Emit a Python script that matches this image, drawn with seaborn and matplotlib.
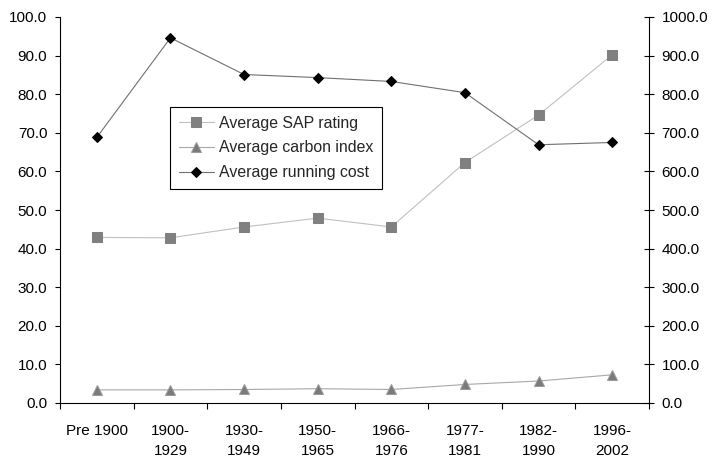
import matplotlib
matplotlib.use("Agg")
import matplotlib.pyplot as plt
from matplotlib.ticker import FormatStrFormatter, FixedLocator
import seaborn as sns
import pandas as pd

bands = ["Pre 1900", "1900-\n1929", "1930-\n1949", "1950-\n1965", "1966-\n1976",
         "1977-\n1981", "1982-\n1990", "1996-\n2002"]
sap_rating = [42.9, 42.8, 45.6, 47.9, 45.6, 62.3, 74.6, 90.2]
carbon_index = [3.4, 3.4, 3.5, 3.7, 3.5, 4.8, 5.7, 7.3]
running_cost = [688, 946, 851, 843, 833, 804, 669, 675]

df = pd.DataFrame({"band": bands, "sap": sap_rating, "carbon": carbon_index, "cost": running_cost})

sns.set_style("ticks")
plt.rcParams["font.family"] = ["Liberation Sans", "DejaVu Sans"]
plt.rcParams["font.size"] = 11

fig = plt.figure(figsize=(7.18, 4.59), dpi=100)
ax = fig.add_axes([60/718, 1-403/459, 589/718, 386/459])
ax2 = ax.twinx()

sns.lineplot(data=df, x="band", y="sap", ax=ax, sort=False, color="#c0c0c0", lw=0.8,
             marker="s", markersize=6.5, markerfacecolor="#808080", markeredgecolor="#808080",
             label="Average SAP rating", legend=False)
sns.lineplot(data=df, x="band", y="carbon", ax=ax, sort=False, color="#a8a8a8", lw=0.8,
             marker="^", markersize=7.5, markerfacecolor="#7a7a7a", markeredgecolor="#9a9a9a",
             label="Average carbon index", legend=False)
sns.lineplot(data=df, x="band", y="cost", ax=ax2, sort=False, color="#707070", lw=0.8,
             marker="D", markersize=5.5, markerfacecolor="black", markeredgecolor="black",
             label="Average running cost", legend=False)

ax.set_xlim(-0.5, 7.5)
ax.set_ylim(0, 100)
ax2.set_ylim(0, 1000)
ax.set_xlabel("")
ax.set_ylabel("")
ax2.set_ylabel("")

ax.set_yticks([i*10 for i in range(11)])
ax2.set_yticks([i*100 for i in range(11)])
ax.yaxis.set_major_formatter(FormatStrFormatter("%.1f"))
ax2.yaxis.set_major_formatter(FormatStrFormatter("%.1f"))

ax.set_xticks(range(len(bands)))
ax.set_xticklabels(bands, linespacing=1.55)
ax.xaxis.set_minor_locator(FixedLocator([i - 0.5 for i in range(len(bands) + 1)]))
ax.tick_params(axis="x", which="major", length=0, pad=15, labelsize=11, colors="black")
ax.tick_params(axis="x", which="minor", length=4, width=0.8, direction="out", color="black")
ax.tick_params(axis="y", length=3.6, width=0.8, direction="out", pad=5.5, labelsize=11, colors="black")
ax2.tick_params(axis="y", length=7, width=0.8, direction="inout", pad=5.5, labelsize=11, colors="black")

for s in ["top", "right"]:
    ax.spines[s].set_visible(False)
for s in ["top", "left", "bottom"]:
    ax2.spines[s].set_visible(False)
for sp in [ax.spines["left"], ax.spines["bottom"], ax2.spines["right"]]:
    sp.set_color("black")
    sp.set_linewidth(0.8)

handles = ax.get_lines()[:2] + ax2.get_lines()[:1]
labels = ["Average SAP rating", "Average carbon index", "Average running cost"]
leg = ax2.legend(handles, labels, loc="upper left", bbox_to_anchor=(0.187, 0.767),
                 borderaxespad=0, frameon=True, fancybox=False, framealpha=1,
                 edgecolor="black", handlelength=2.2, handletextpad=0.32,
                 labelspacing=0.62, borderpad=0.55, fontsize=11.4)
leg.get_frame().set_linewidth(0.8)

fig.savefig("out.png", dpi=100, facecolor="white")
